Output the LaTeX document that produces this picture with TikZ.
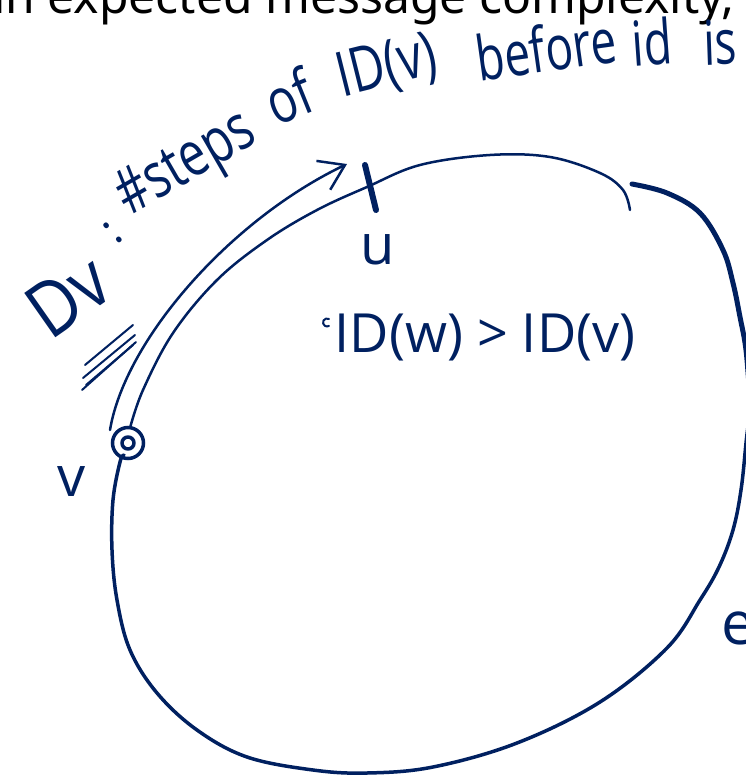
\documentclass[tikz,border=0pt]{standalone}
\usepackage{fontspec}
\setmainfont{Noto Sans}
\newfontfamily\hand{Open Sans}
\usetikzlibrary{arrows.meta}
\definecolor{navy}{RGB}{0,32,96}
\begin{document}
\begin{tikzpicture}[x=1pt,y=-1pt,
  ink/.style={draw=navy, line cap=round, line join=round},
  hw/.style={text=navy, font=\hand\fontsize{#1}{#1}\selectfont, inner sep=0pt},
]
\useasboundingbox (0,0) rectangle (746,776);
\clip (0,0) rectangle (746,776);

% heading, cut off at the top
\node[anchor=base west, inner sep=0pt, font=\fontsize{48}{56}\selectfont] (title) at (-7,14) {in expected message complexity,};

% ring: upper thin stroke from v
\draw[ink, line width=2.5pt] plot[smooth, tension=0.6] coordinates {(130,428) (143,390) (173,333) (217,280) (267,240) (317,210) (367,187) (420,165) (490,155) (550,157) (600,173) (623,190) (630,210)};
% ring: second stroke, right side and bottom back to v
\draw[ink, line width=3.5pt] plot[smooth, tension=0.6] coordinates {(632,184) (667,193) (700,213) (723,250) (733,283) (740,317) (746,350) (750,400) (746,443) (741,490) (733,530) (719,567) (700,600) (667,648) (600,702) (517,743) (433,767) (367,773) (313,770) (247,757) (197,730) (157,693) (130,650) (117,600) (112,550) (113,500) (120,462) (124,455)};
% heavier ink where the stroke starts
\draw[ink, line width=5pt] plot[smooth, tension=0.6] coordinates {(632,184) (667,193) (700,213) (723,250) (733,283) (740,317) (746,350) (750,400)};

% node v
\node[circle, draw=navy, line width=3.5pt, minimum size=31pt, inner sep=0pt] (v) at (128,443) {};
\draw[ink, line width=3.5pt] (v.center) circle[radius=6pt];

% tick at u
\coordinate (utop) at (365,165);
\coordinate (ubot) at (376,210);
\draw[ink, line width=6pt] (utop) -- (ubot);

% D_v arrow
\coordinate (dvs) at (110,430);
\coordinate (dve) at (347,164);
\draw[ink, line width=2.5pt, -{Straight Barb[length=24pt, width=32pt, line width=2.5pt]}] (dvs) .. controls (125,340) and (230,220) .. (dve);

% hatch marks
\draw[ink, line width=2pt] (85,365) -- (133,325);
\draw[ink, line width=2pt] (83,378) -- (135,335);
\draw[ink, line width=2pt] (86,385) -- (133,345);
\draw[ink, line width=2pt] (82,390) -- (136,342);

% handwritten labels
\node[hw=66, rotate=35, yscale=1.15] (dv) at (68,296) {Dv};
\node[hw=44, rotate=42] (colon) at (113,233) {:};
\node[hw=48, rotate=30, yscale=1.3] (steps) at (187,166) {\#steps};
\node[hw=48, rotate=22, yscale=1.3] (of) at (289,96) {of};
\node[hw=48, rotate=14, yscale=1.3] (idv) at (387,68) {ID(v)};
\node[hw=46, rotate=8, yscale=1.35] (before) at (546,48) {before};
\node[hw=46, rotate=4, yscale=1.35] (id) at (652,42) {id};
\node[hw=46, rotate=2, yscale=1.35] (is) at (720,42) {is};
\node[hw=56] (ulab) at (378,250) {u};
\node[hw=56] (vlab) at (72,482) {v};
\node[hw=60] (elab) at (738,628) {e};
\node[hw=54] (cond) at (485,337) {ID(w) > ID(v)};
\draw[ink, line width=2pt] (329,319) arc[start angle=60, end angle=300, radius=4pt];
\end{tikzpicture}
\end{document}
